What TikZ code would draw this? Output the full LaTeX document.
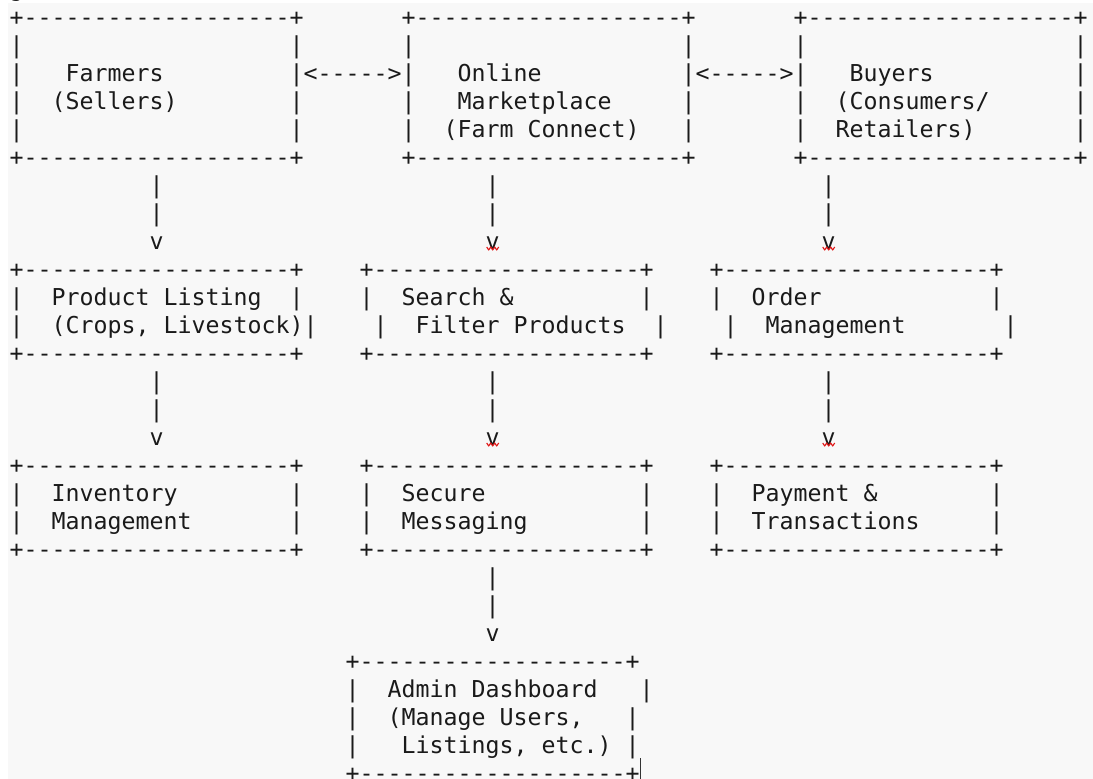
\documentclass[tikz,border=0pt]{standalone}
\usepackage{fontspec}
\setmonofont{DejaVu Sans Mono}
\newcommand{\asciifont}{\ttfamily\fontsize{23.254pt}{28pt}\selectfont\frenchspacing}
\definecolor{bgpane}{HTML}{F8F8F8}
\definecolor{ink}{HTML}{1A1A1A}
\definecolor{caretc}{HTML}{333333}
\definecolor{spellred}{HTML}{E01818}
\tikzset{
  txt/.style={anchor=base west, inner sep=0pt, outer sep=0pt, font=\asciifont, text=ink},
  spell/.style={draw=spellred, line width=1.1pt, line join=round},
  caretline/.style={draw=caretc, line width=1pt}
}
% line #1, column #2, text #3
\newcommand{\seg}[3]{\node[txt] (s#1x#2) at ({9.7+14*(#2)},{25+28*(#1)}) {#3};}
\newcommand{\brd}{+-------------------+}
\newcommand{\squig}[2]{\draw[spell] ({16.7+14*(#2)-6},{25+28*(#1)-2}) -- ++(2,3) -- ++(2,-3) -- ++(2,3) -- ++(2,-3) -- ++(2,3) -- ++(2,-3);}
\begin{document}
\begin{tikzpicture}[x=1pt,y=-1pt]
\useasboundingbox (0,0) rectangle (1093,779);
\fill[white] (0,0) rectangle (1093,779);
\fill[bgpane] (8,3) rectangle (1093,779);
\begin{scope}
\clip (0,0) rectangle (1093,779);
% partial glyph of the previous line
\seg{-1}{0}{g}
% ---- row 1 ----
\seg{0}{0}{\brd}\seg{0}{28}{\brd}\seg{0}{56}{\brd}
\seg{1}{0}{|}\seg{1}{20}{|}\seg{1}{28}{|}\seg{1}{48}{|}\seg{1}{56}{|}\seg{1}{76}{|}
\seg{2}{0}{|}\seg{2}{4}{Farmers}\seg{2}{20}{|<----->|}\seg{2}{32}{Online}\seg{2}{48}{|<----->|}\seg{2}{60}{Buyers}\seg{2}{76}{|}
\seg{3}{0}{|}\seg{3}{3}{(Sellers)}\seg{3}{20}{|}\seg{3}{28}{|}\seg{3}{32}{Marketplace}\seg{3}{48}{|}\seg{3}{56}{|}\seg{3}{59}{(Consumers/}\seg{3}{76}{|}
\seg{4}{0}{|}\seg{4}{20}{|}\seg{4}{28}{|}\seg{4}{31}{(Farm Connect)}\seg{4}{48}{|}\seg{4}{56}{|}\seg{4}{59}{Retailers)}\seg{4}{76}{|}
\seg{5}{0}{\brd}\seg{5}{28}{\brd}\seg{5}{56}{\brd}
\seg{6}{10}{|}\seg{6}{34}{|}\seg{6}{58}{|}
\seg{7}{10}{|}\seg{7}{34}{|}\seg{7}{58}{|}
\seg{8}{10}{v}\seg{8}{34}{v}\seg{8}{58}{v}
\squig{8}{34}\squig{8}{58}
% ---- row 2 ----
\seg{9}{0}{\brd}\seg{9}{25}{\brd}\seg{9}{50}{\brd}
\seg{10}{0}{|}\seg{10}{3}{Product Listing}\seg{10}{20}{|}\seg{10}{25}{|}\seg{10}{28}{Search \&}\seg{10}{45}{|}\seg{10}{50}{|}\seg{10}{53}{Order}\seg{10}{70}{|}
\seg{11}{0}{|}\seg{11}{3}{(Crops, Livestock)|}\seg{11}{26}{|}\seg{11}{29}{Filter Products}\seg{11}{46}{|}\seg{11}{51}{|}\seg{11}{54}{Management}\seg{11}{71}{|}
\seg{12}{0}{\brd}\seg{12}{25}{\brd}\seg{12}{50}{\brd}
\seg{13}{10}{|}\seg{13}{34}{|}\seg{13}{58}{|}
\seg{14}{10}{|}\seg{14}{34}{|}\seg{14}{58}{|}
\seg{15}{10}{v}\seg{15}{34}{v}\seg{15}{58}{v}
\squig{15}{34}\squig{15}{58}
% ---- row 3 ----
\seg{16}{0}{\brd}\seg{16}{25}{\brd}\seg{16}{50}{\brd}
\seg{17}{0}{|}\seg{17}{3}{Inventory}\seg{17}{20}{|}\seg{17}{25}{|}\seg{17}{28}{Secure}\seg{17}{45}{|}\seg{17}{50}{|}\seg{17}{53}{Payment \&}\seg{17}{70}{|}
\seg{18}{0}{|}\seg{18}{3}{Management}\seg{18}{20}{|}\seg{18}{25}{|}\seg{18}{28}{Messaging}\seg{18}{45}{|}\seg{18}{50}{|}\seg{18}{53}{Transactions}\seg{18}{70}{|}
\seg{19}{0}{\brd}\seg{19}{25}{\brd}\seg{19}{50}{\brd}
\seg{20}{34}{|}
\seg{21}{34}{|}
\seg{22}{34}{v}
% ---- admin ----
\seg{23}{24}{\brd}
\seg{24}{24}{|}\seg{24}{27}{Admin Dashboard}\seg{24}{45}{|}
\seg{25}{24}{|}\seg{25}{27}{(Manage Users,}\seg{25}{44}{|}
\seg{26}{24}{|}\seg{26}{28}{Listings, etc.)}\seg{26}{44}{|}
\seg{27}{24}{\brd}
% text caret
\coordinate (caretTop) at (640.5,758);
\coordinate (caretBot) at (640.5,779);
\draw[caretline] (caretTop) -- (caretBot);
\end{scope}
\end{tikzpicture}
\end{document}
